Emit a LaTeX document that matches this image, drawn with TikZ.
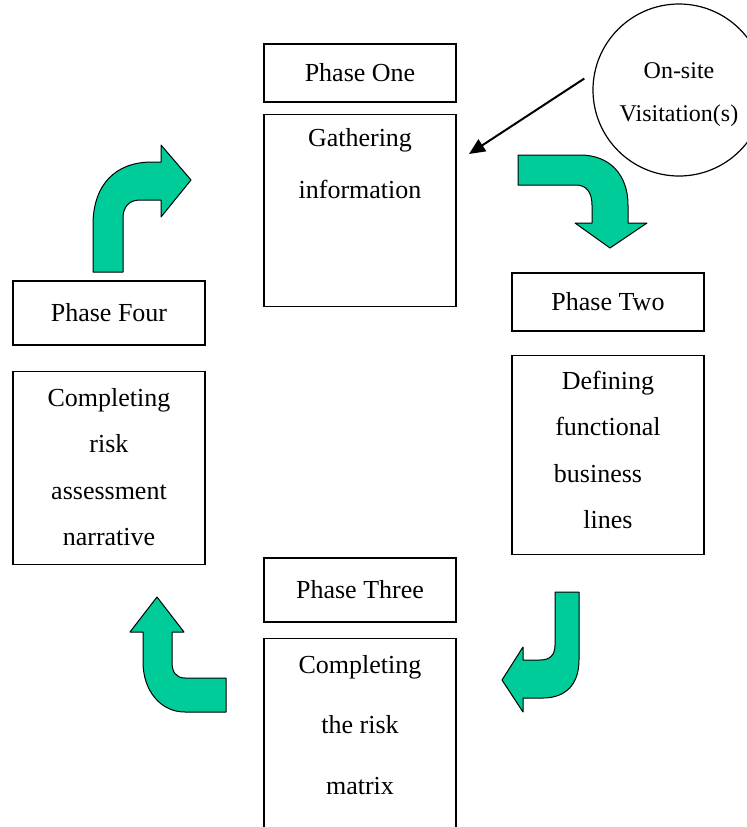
\documentclass[tikz,border=0pt]{standalone}
\usepackage{fontspec}
\setmainfont{Liberation Serif}
\usepackage{tikz}
\usetikzlibrary{positioning,arrows.meta}
\definecolor{sea}{RGB}{0, 204, 153}
\newcommand{\lnstrut}{\rule{0pt}{10pt}}
\tikzstyle{phasebox} = [draw, line width=0.6pt, minimum width=96pt, inner sep=0pt, font=\fontsize{13}{15}\selectfont]
\tikzstyle{taskbox} = [draw, line width=0.6pt, minimum width=96pt, inner sep=0pt]
\tikzstyle{tasktext} = [inner sep=0pt, align=center]
\tikzstyle{visitcircle} = [circle, draw, line width=0.6pt, minimum size=86pt, inner sep=0pt, align=center, font=\fontsize{12}{21.5}\selectfont]
\tikzstyle{turnarrow} = [fill=sea, draw=black, line width=0.5pt, line join=round]
\tikzstyle{visline} = [draw, line width=1pt, -{Triangle[length=8pt, width=7pt]}]

\begin{document}
\begin{tikzpicture}[x=0.5pt, y=-0.5pt]
\useasboundingbox (0,0) rectangle (747,827);
\clip (0,0) rectangle (747,827);
\fill[white] (0,0) rectangle (747,827);

% phases =============================
\node[phasebox, minimum height=29pt] (one) at (360,73) {Phase One};
\node[taskbox, minimum height=96pt, below=5.5pt of one] (gather) {};
\node[tasktext, font=\fontsize{13}{26}\selectfont, below=6pt of gather.north] (gathertxt) {\lnstrut Gathering\\information};

\node[phasebox, minimum height=29pt] (two) at (608,302) {Phase Two};
\node[taskbox, minimum height=99.5pt, below=11.5pt of two] (define) {};
\node[tasktext, font=\fontsize{13}{23.3}\selectfont, below=7pt of define.north] (definetxt) {\lnstrut Defining\\functional\\business\rule{10pt}{0pt}\\lines};

\node[phasebox, minimum height=32pt] (three) at (360,590) {Phase Three};
\node[taskbox, minimum height=116.5pt, below=7.5pt of three] (matrix) {};
\node[tasktext, font=\fontsize{13}{30.3}\selectfont, below=7.5pt of matrix.north] (matrixtxt) {\lnstrut Completing\\the risk\\matrix};

\node[phasebox, minimum height=32pt] (four) at (109,313) {Phase Four};
\node[taskbox, minimum height=96.5pt, below=12.5pt of four] (narrate) {};
\node[tasktext, font=\fontsize{13}{23.3}\selectfont, below=7.5pt of narrate.north] (narratetxt) {\lnstrut Completing\\risk\\assessment\\narrative};

% visit =============================
\node[visitcircle] (visit) at (679,90) {\rule{0pt}{12.6pt}On-site\\Visitation(s)};
\coordinate (gathertip) at (469,154);
\path[visline, shorten <=6pt] (visit.168) -- (gathertip);

% turn arrows =============================
\filldraw[turnarrow] (93,272) -- (93,225) .. controls (93,185) and (115,162) .. (152,162)
  -- (161,162) -- (161,145) -- (191,180) -- (161,217) -- (161,200) -- (140,200)
  .. controls (129,200) and (123,207) .. (123,218) -- (123,272) -- cycle;
\filldraw[turnarrow] (518,155) -- (580,155) .. controls (610,155) and (628,175) .. (628,205)
  -- (628,223) -- (647,223) -- (610,248) -- (575,223) -- (592,223) -- (592,205)
  .. controls (592,192) and (586,185) .. (576,185) -- (518,185) -- cycle;
\filldraw[turnarrow] (555,592) -- (579,592) -- (579,660) .. controls (579,685) and (565,698) .. (543,698)
  -- (523,698) -- (523,712) -- (502,680) -- (523,647) -- (523,660) -- (540,660)
  .. controls (550,660) and (555,655) .. (555,645) -- cycle;
\filldraw[turnarrow] (226,712) -- (185,712) .. controls (160,712) and (143,690) .. (143,662)
  -- (143,632) -- (130,632) -- (157,597) -- (184,632) -- (172,632) -- (172,662)
  .. controls (172,672) and (176,678) .. (185,678) -- (226,678) -- cycle;

\end{tikzpicture}
\end{document}
